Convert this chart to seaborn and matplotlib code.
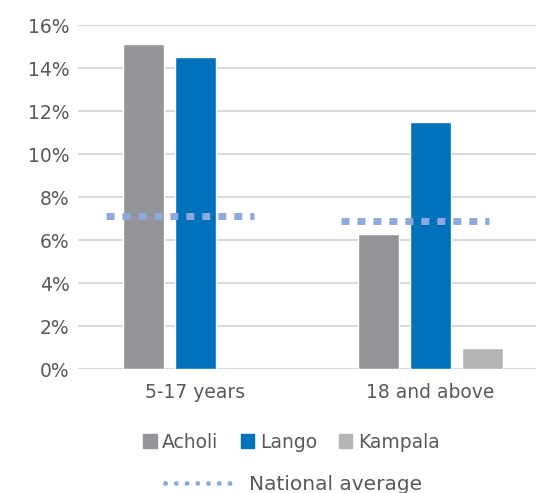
import numpy as np
import pandas as pd
import matplotlib
matplotlib.use("Agg")
import matplotlib.pyplot as plt
from matplotlib.lines import Line2D
from matplotlib.patches import Patch
import seaborn as sns

# Data (percent)
age_groups = ["5-17 years", "18 and above"]
regions = ["Acholi", "Lango", "Kampala"]
acholi = [15.1, 6.3]
lango = [14.5, 11.5]
kampala = [np.nan, 1.0]
national_avg = [7.1, 6.9]
y_ticks = [0, 2, 4, 6, 8, 10, 12, 14, 16]

colors = {"Acholi": "#939598", "Lango": "#0072bc", "Kampala": "#b3b4b6"}
avg_color = "#8eaadc"
text_color = "#595959"

df = pd.DataFrame({
    "group": age_groups * 3,
    "region": [r for r in regions for _ in age_groups],
    "value": acholi + lango + kampala,
})

sns.set_style("white")
plt.rcParams["font.family"] = ["DejaVu Sans"]

fig = plt.figure(figsize=(5.36, 4.93), dpi=100)
ax = fig.add_axes([0.1455, 0.2515, 0.8545, 0.6975])

sns.barplot(data=df, x="group", y="value", hue="region", order=age_groups,
            hue_order=regions, palette=colors, width=0.663, gap=0.21,
            saturation=1, legend=False, ax=ax)

# national average lines over each group
for i, v in enumerate(national_avg):
    ax.plot([i - 0.38, i + 0.25], [v, v], color=avg_color, lw=5,
            dashes=(1.15, 1.15), dash_capstyle="butt", zorder=3)

ax.set_ylim(0, 16)
ax.set_xlim(-0.5, 1.449)
ax.set_yticks(y_ticks)
ax.set_yticklabels([f"{t}%" for t in y_ticks])
ax.yaxis.grid(True, color="#d9d9d9", lw=1.5)
ax.set_axisbelow(True)
for s in ax.spines.values():
    s.set_visible(False)
ax.tick_params(axis="both", length=0, labelsize=13.5, colors=text_color, pad=6)
ax.tick_params(axis="x", pad=10)
ax.set_xlabel("")
ax.set_ylabel("")

handles = [Patch(color=colors[r], label=r) for r in regions]
leg1 = fig.legend(handles=handles, ncol=3, loc="center",
                  bbox_to_anchor=(0.544, 1 - 442 / 493), frameon=False,
                  fontsize=13.5, handlelength=0.7, handleheight=0.7,
                  handletextpad=0.3, columnspacing=1.2)
for t in leg1.get_texts():
    t.set_color(text_color)

avg_handle = Line2D([], [], color=avg_color, lw=3.5, linestyle=(0, (0.01, 2.2)),
                    dash_capstyle="round", label="National average")
leg2 = fig.legend(handles=[avg_handle], loc="center",
                  bbox_to_anchor=(0.548, 1 - 485 / 493), frameon=False,
                  fontsize=14.5, handlelength=3.6, handletextpad=0.6)
for t in leg2.get_texts():
    t.set_color(text_color)

fig.savefig("out.png", dpi=100)
